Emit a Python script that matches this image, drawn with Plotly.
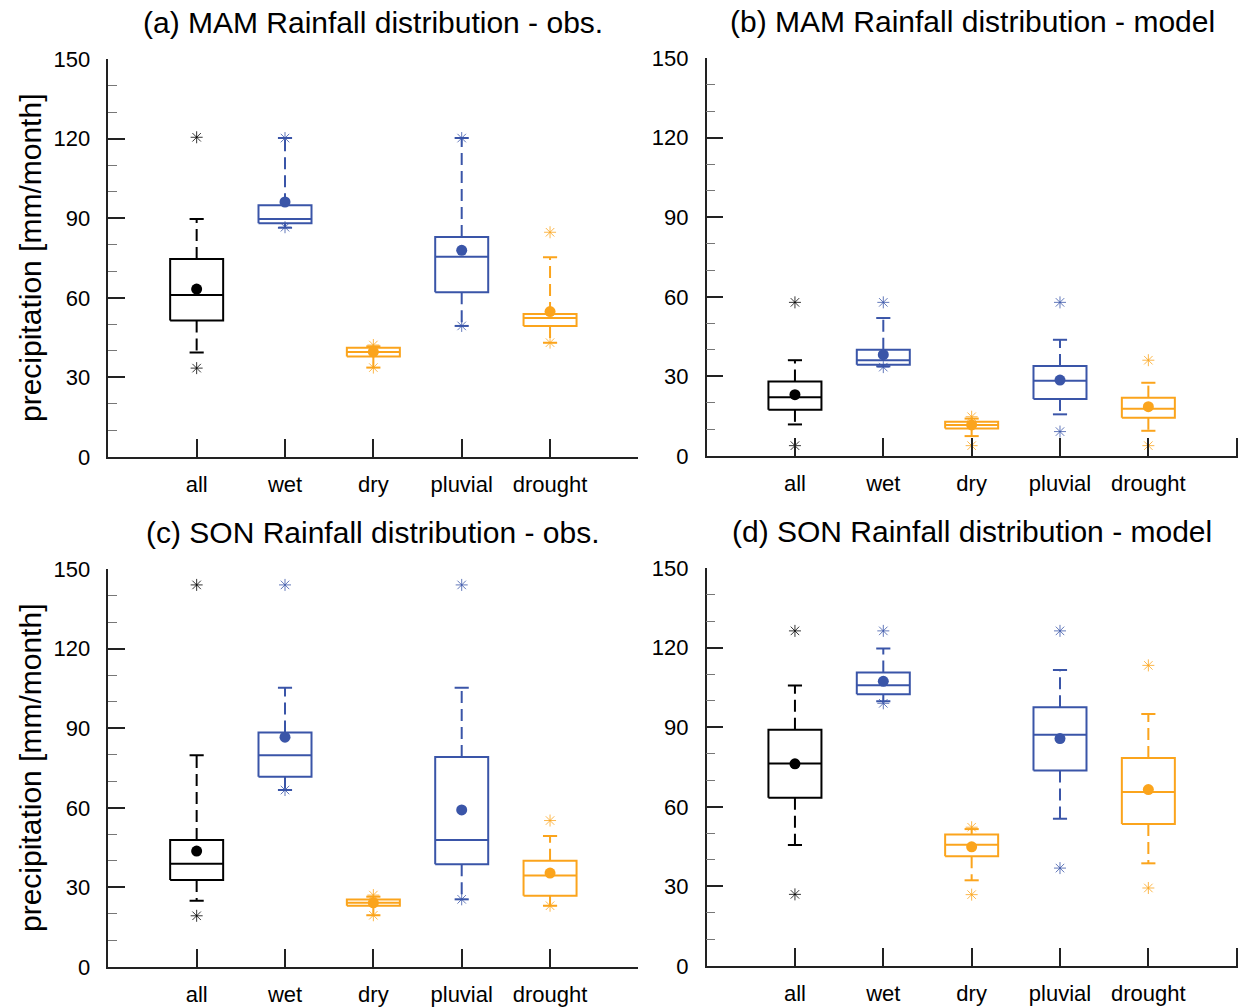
import plotly.graph_objects as go

categories = ["all", "wet", "dry", "pluvial", "drought"]
box_colors = ["#000000", "#3A55A8", "#FBA41C", "#3A55A8", "#FBA41C"]

titles = [
    "(a) MAM Rainfall distribution - obs.",
    "(b) MAM Rainfall distribution - model",
    "(c) SON Rainfall distribution - obs.",
    "(d) SON Rainfall distribution - model",
]
y_title = "precipitation [mm/month]"
y_ticks = [0, 30, 60, 90, 120, 150]

# Panel (a) MAM obs
min_a = [33.5, 86.6, 33.7, 49.4, 43.1]
lo_a = [39.4, 86.4, 33.7, 49.4, 43.1]
q1_a = [51.4, 88.1, 37.9, 62.1, 49.4]
med_a = [61.1, 89.7, 39.6, 75.5, 52.4]
q3_a = [74.6, 94.9, 41.2, 82.9, 53.9]
hi_a = [89.7, 120.2, 41.7, 120.2, 75.3]
max_a = [120.5, 120.2, 42.2, 120.2, 84.7]
mean_a = [63.3, 96.1, 39.6, 77.9, 54.8]

# Panel (b) MAM model
min_b = [3.9, 33.5, 3.9, 9.2, 3.9]
lo_b = [11.9, 33.8, 7.5, 15.7, 9.5]
q1_b = [17.4, 34.4, 10.4, 21.5, 14.4]
med_b = [22.1, 36.1, 11.7, 28.4, 17.8]
q3_b = [28.1, 40.0, 12.9, 33.9, 22.0]
hi_b = [36.1, 52.0, 14.1, 43.8, 27.6]
max_b = [57.9, 57.9, 14.8, 57.9, 36.1]
mean_b = [23.1, 38.2, 11.7, 28.6, 18.6]

# Panel (c) SON obs
min_c = [19.3, 66.7, 19.5, 25.5, 23.1]
lo_c = [25.0, 66.7, 19.5, 25.5, 23.1]
q1_c = [32.8, 71.7, 23.1, 38.7, 26.9]
med_c = [38.9, 79.8, 24.2, 47.9, 34.5]
q3_c = [47.9, 88.4, 25.4, 79.1, 40.0]
hi_c = [79.8, 105.2, 26.5, 105.2, 49.4]
max_c = [144.0, 144.0, 27.1, 144.0, 55.2]
mean_c = [43.7, 86.6, 24.2, 59.2, 35.4]

# Panel (d) SON model
min_d = [27.0, 99.0, 26.9, 36.9, 29.4]
lo_d = [45.6, 99.8, 32.3, 55.5, 38.7]
q1_d = [63.4, 102.4, 41.4, 73.7, 53.5]
med_d = [76.3, 105.8, 45.7, 87.2, 65.6]
q3_d = [89.0, 110.6, 49.6, 97.5, 78.4]
hi_d = [105.7, 119.7, 51.6, 111.6, 95.0]
max_d = [126.3, 126.3, 52.3, 126.3, 113.3]
mean_d = [76.2, 107.3, 44.9, 85.7, 66.5]

panels = [
    (min_a, lo_a, q1_a, med_a, q3_a, hi_a, max_a, mean_a),
    (min_b, lo_b, q1_b, med_b, q3_b, hi_b, max_b, mean_b),
    (min_c, lo_c, q1_c, med_c, q3_c, hi_c, max_c, mean_c),
    (min_d, lo_d, q1_d, med_d, q3_d, hi_d, max_d, mean_d),
]

W, H = 1238, 1008
# plot areas in pixels: (left, right, top, bottom)
areas = [
    (108.3, 638.4, 59, 457),
    (706.6, 1238, 58, 456),
    (108.3, 638.4, 569, 967),
    (706.6, 1238, 568, 966),
]

FONT = "Liberation Sans, Arial, Helvetica, sans-serif"
BW = 0.3   # half box width (category units)
CW = 0.08  # half cap width

fig = go.Figure()
layout = dict(
    width=W, height=H, margin=dict(l=0, r=0, t=0, b=0, autoexpand=False),
    paper_bgcolor="white", plot_bgcolor="white", showlegend=False,
    font=dict(family=FONT, color="black"),
    annotations=[],
)

for p, (data, area) in enumerate(zip(panels, areas)):
    mn, lo, q1, md, q3, hi, mx, mean = data
    sfx = "" if p == 0 else str(p + 1)
    xa, ya = "x" + sfx, "y" + sfx
    for i, cat in enumerate(categories):
        c = box_colors[i]
        x = i + 1
        # box + median (solid)
        fig.add_trace(go.Scatter(
            x=[x - BW, x + BW, x + BW, x - BW, x - BW, None, x - BW, x + BW],
            y=[q1[i], q1[i], q3[i], q3[i], q1[i], None, md[i], md[i]],
            mode="lines", line=dict(color=c, width=2), xaxis=xa, yaxis=ya,
            hoverinfo="skip"))
        # whiskers (dashed)
        fig.add_trace(go.Scatter(
            x=[x, x, None, x, x],
            y=[q3[i], hi[i], None, q1[i], lo[i]],
            mode="lines", line=dict(color=c, width=2, dash="12px,6px"),
            xaxis=xa, yaxis=ya, hoverinfo="skip"))
        # caps
        fig.add_trace(go.Scatter(
            x=[x - CW, x + CW, None, x - CW, x + CW],
            y=[hi[i], hi[i], None, lo[i], lo[i]],
            mode="lines", line=dict(color=c, width=2),
            xaxis=xa, yaxis=ya, hoverinfo="skip"))
        # extremes (asterisks)
        fig.add_trace(go.Scatter(
            x=[x, x], y=[mn[i], mx[i]], mode="markers",
            marker=dict(symbol="asterisk-open", size=10, color=c,
                        line=dict(color=c, width=0.8)),
            xaxis=xa, yaxis=ya, hoverinfo="skip"))
        # mean
        fig.add_trace(go.Scatter(
            x=[x], y=[mean[i]], mode="markers",
            marker=dict(symbol="circle", size=11, color=c),
            xaxis=xa, yaxis=ya, hoverinfo="skip"))

    l, r, t, b = area
    xdom = [l / W, min(r / W, 1.0)]
    ydom = [(H - b) / H, (H - t) / H]
    xname = "xaxis" + sfx
    yname = "yaxis" + sfx
    layout[xname] = dict(
        domain=xdom, range=[0, 6 * (xdom[1] * W - l) / (638.4 - 108.3)],
        anchor=ya, tickvals=[1, 2, 3, 4, 5, 6],
        ticktext=categories + [""], ticks="inside", ticklen=18,
        tickwidth=1.5, tickcolor="#222", showline=True, linewidth=1.5,
        linecolor="#222", showgrid=False, zeroline=False,
        tickfont=dict(size=22, family=FONT, color="black"),
        ticklabelstandoff=7, fixedrange=True, automargin=False,
    )
    layout[yname] = dict(
        domain=ydom, range=[0, 150], anchor=xa, tickvals=y_ticks,
        ticks="inside", ticklen=17, tickwidth=1.5, tickcolor="#222",
        showline=True, linewidth=1.5, linecolor="#222", showgrid=False,
        zeroline=False, tickfont=dict(size=22, family=FONT, color="black"),
        ticklabelstandoff=12,
        minor=dict(dtick=10, tick0=0, ticks="inside", ticklen=9,
                   tickwidth=1.2, tickcolor="#777", showgrid=False),
        fixedrange=True, automargin=False,
    )
    layout["annotations"].append(dict(
        text=titles[p], xref="paper", yref="paper",
        x=(l + min(r, 1238)) / 2 / W, y=(H - (t - 37)) / H,
        xanchor="center", yanchor="middle", showarrow=False,
        font=dict(size=30, family=FONT, color="black")))
    if p in (0, 2):
        layout["annotations"].append(dict(
            text=y_title, xref="paper", yref="paper",
            x=30 / W, y=(H - (t + b) / 2) / H, textangle=-90,
            xanchor="center", yanchor="middle", showarrow=False,
            font=dict(size=30, family=FONT, color="black")))

fig.update_layout(**layout)
fig.write_html("out.html")
